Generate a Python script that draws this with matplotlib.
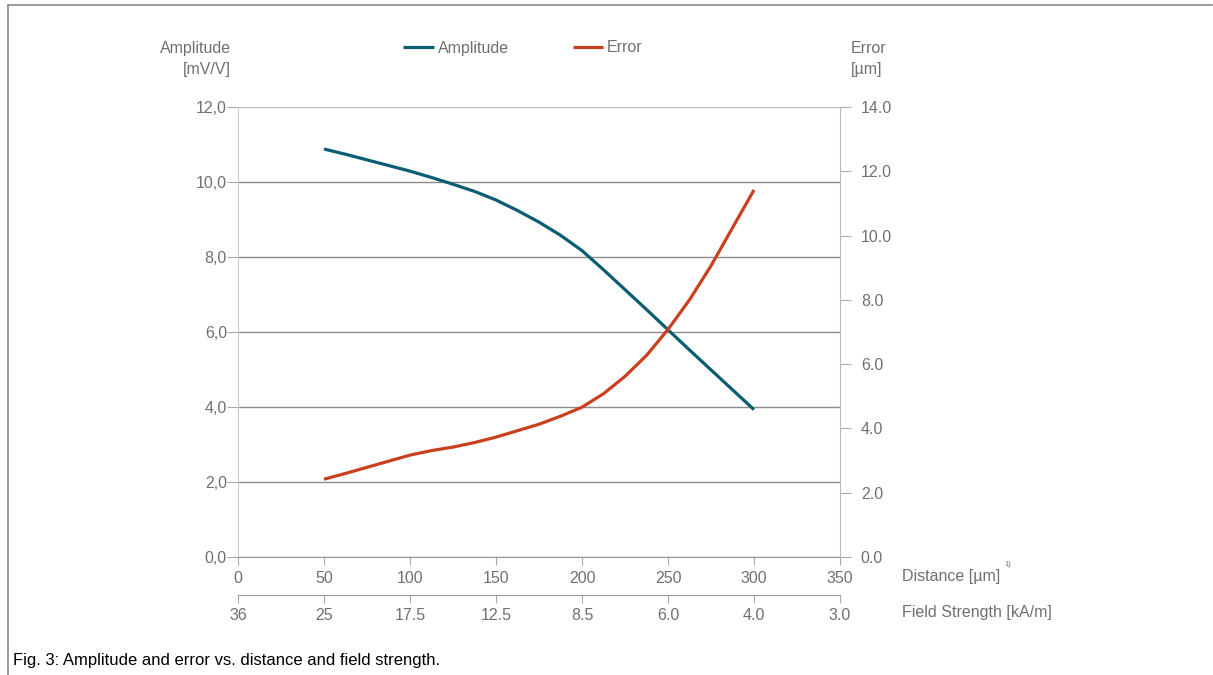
import matplotlib.pyplot as plt
from matplotlib.lines import Line2D

plt.rcParams['font.family'] = ['Liberation Sans', 'DejaVu Sans']

# data
distance = [50, 62.5, 75, 87.5, 100, 112.5, 125, 137.5, 150, 162.5, 175,
            187.5, 200, 212.5, 225, 237.5, 250, 262.5, 275, 287.5, 300]
amplitude = [10.88, 10.74, 10.59, 10.44, 10.29, 10.12, 9.94, 9.75, 9.52, 9.24, 8.93,
             8.58, 8.17, 7.66, 7.13, 6.60, 6.06, 5.52, 4.99, 4.46, 3.93]
error = [2.42, 2.60, 2.79, 2.98, 3.17, 3.31, 3.42, 3.56, 3.73, 3.93, 4.13,
         4.38, 4.66, 5.08, 5.62, 6.27, 7.08, 8.00, 9.06, 10.24, 11.42]

dist_ticks = [0, 50, 100, 150, 200, 250, 300, 350]
field_labels = ["36", "25", "17.5", "12.5", "8.5", "6.0", "4.0", "3.0"]
amp_ticks = [0, 2, 4, 6, 8, 10, 12]
err_ticks = [0, 2, 4, 6, 8, 10, 12, 14]

teal = "#0b5d73"
orange = "#c9401f"
txt = "#707070"
fs = 11.5

fig = plt.figure(figsize=(12.13, 6.75), dpi=100)
ax = fig.add_axes([238 / 1213, 1 - 557 / 675, 602 / 1213, 450 / 675])
ax2 = ax.twinx()

ax.plot(distance, amplitude, color=teal, lw=2.3, label="Amplitude", solid_capstyle="butt")
ax2.plot(distance, error, color=orange, lw=2.3, label="Error", solid_capstyle="butt")

ax.set_xlim(0, 350)
ax.set_ylim(0, 12)
ax2.set_ylim(0, 14)

ax.set_xticks(dist_ticks)
ax.set_xticklabels([str(d) for d in dist_ticks])
ax.set_yticks(amp_ticks)
ax.set_yticklabels([f"{v:.1f}".replace(".", ",") for v in amp_ticks])
ax2.set_yticks(err_ticks)
ax2.set_yticklabels([f"{v:.1f}" for v in err_ticks])

ax.grid(axis="y", color="#8c8c8c", lw=1.0)
ax.set_axisbelow(True)
ax.get_ygridlines()[-1].set_color("#c4c4c4")

for a in (ax, ax2):
    a.spines["top"].set_visible(False)
    a.tick_params(colors="#aaaaaa", labelcolor=txt, labelsize=fs, length=6)
ax.spines["left"].set_color("#cccccc")
ax.spines["bottom"].set_color("#9a9a9a")
ax.spines["right"].set_visible(False)
ax2.spines["left"].set_visible(False)
ax2.spines["bottom"].set_visible(False)
ax2.spines["right"].set_color("#bbbbbb")
ax.tick_params(axis="y", length=8, pad=0)
ax2.tick_params(axis="y", length=8, pad=7)
ax.tick_params(axis="x", pad=4)

# second x axis: field strength
sec = ax.secondary_xaxis(-38 / 450)
sec.set_xticks(dist_ticks)
sec.set_xticklabels(field_labels)
sec.spines["bottom"].set_color("#9a9a9a")
sec.tick_params(colors="#aaaaaa", labelcolor=txt, labelsize=fs, length=6, pad=3)

# axis titles
fig.text(231 / 1213, 1 - 59 / 675, "Amplitude\n[mV/V]", ha="right", va="center",
         color=txt, fontsize=fs, linespacing=1.55)
fig.text(851 / 1213, 1 - 59 / 675, "Error\n[µm]", ha="left", va="center",
         color=txt, fontsize=fs, linespacing=1.55)
fig.text(902 / 1213, 1 - 577 / 675, "Distance [µm]", ha="left", va="center",
         color=txt, fontsize=fs)
fig.text(1004 / 1213, 1 - 565 / 675, "1)", ha="left", va="center",
         color=txt, fontsize=5.5)
fig.text(902 / 1213, 1 - 613 / 675, "Field Strength [kA/m]", ha="left", va="center",
         color=txt, fontsize=fs)

# legend
handles = ax.get_lines() + ax2.get_lines()
leg = fig.legend(handles, [h.get_label() for h in handles], loc="center",
                 bbox_to_anchor=(523 / 1213, 1 - 48 / 675), ncol=2, frameon=False,
                 fontsize=fs, handlelength=1.9, handletextpad=0.25, columnspacing=4.0)
for t in leg.get_texts():
    t.set_color(txt)

# caption and frame
fig.text(13 / 1213, 1 - 660 / 675, "Fig. 3: Amplitude and error vs. distance and field strength.",
         ha="left", va="center", color="black", fontsize=12)
fig.add_artist(Line2D([8 / 1213, 1212 / 1213], [1 - 5 / 675, 1 - 5 / 675],
                      transform=fig.transFigure, color="#8a8a8a", lw=1.2))
fig.add_artist(Line2D([8 / 1213, 8 / 1213], [1 - 5 / 675, 0],
                      transform=fig.transFigure, color="#8a8a8a", lw=1.2))

fig.savefig("out.png", dpi=100)
